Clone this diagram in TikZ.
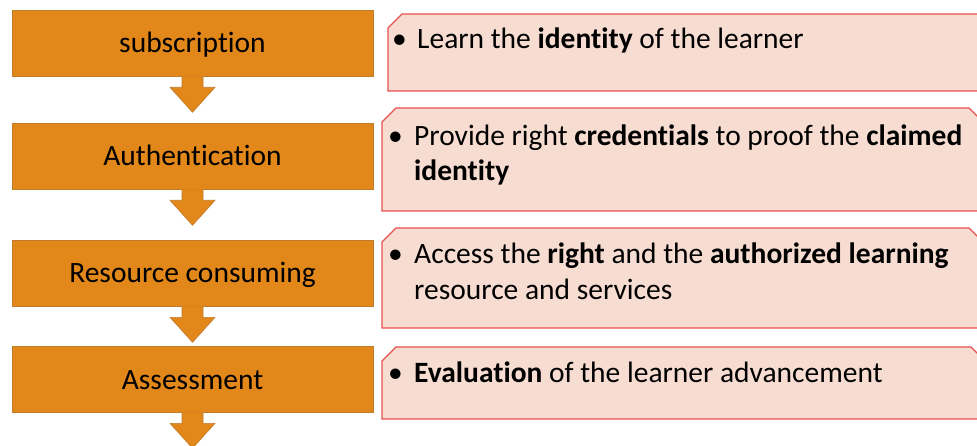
\documentclass[tikz,border=0pt]{standalone}
\usepackage{fontspec}
\setmainfont{Carlito}[Ligatures=NoCommon]
\usetikzlibrary{calc}
\definecolor{ofill}{HTML}{E2871A}
\definecolor{oline}{HTML}{C27A2C}
\definecolor{pfill}{HTML}{F7DDD1}
\definecolor{pline}{HTML}{E8504F}
\newcommand{\bigfont}{\fontsize{29.5}{35}\selectfont}
\begin{document}
\begin{tikzpicture}[x=1pt,y=-1pt,
  obox/.style={fill=ofill,draw=oline,line width=0.6pt,minimum width=361pt,minimum height=66pt,inner sep=0pt,text height=26pt,text depth=6pt,font=\bigfont},
  pbox/.style={fill=pfill,draw=pline,line width=1.3pt,line join=miter},
  ptext/.style={anchor=base west,inner sep=0pt,font=\bigfont}]
\useasboundingbox (0,0) rectangle (977,446);
\clip (0,0) rectangle (977,446);
\fill[white] (0,0) rectangle (977,446);

% left process boxes
\node[obox] (s1) at (192.5,43) {subscription};
\node[obox] (s2) at (192.5,156) {Authentication};
\node[obox] (s3) at (192.5,273) {Resource consuming};
\node[obox] (s4) at (192.5,379) {Assessment};

% block arrows below each box
\foreach \n in {s1,s2,s3,s4}{
  \fill[ofill] ([xshift=-10.5pt]\n.south) -- ++(0,11) -- ++(-12,0) -- ++(22.5,25) -- ++(22.5,-25) -- ++(-12,0) -- ++(0,-11) -- cycle;
  \draw[oline,line width=0.6pt] ([xshift=-10.5pt]\n.south) -- ++(0,11) -- ++(-12,0) -- ++(22.5,25) -- ++(22.5,-25) -- ++(-12,0) -- ++(0,-11);
}

% right description boxes (chamfered top corners)
\draw[pbox] (388,91) -- (388,28) -- (402,14) -- (981,14) -- (995,28) -- (995,91) -- cycle;
\draw[pbox] (382,211) -- (382,122) -- (396,108) -- (969,108) -- (983,122) -- (983,211) -- cycle;
\draw[pbox] (382,328) -- (382,242) -- (396,228) -- (969,228) -- (983,242) -- (983,328) -- cycle;
\draw[pbox] (382,419) -- (382,361) -- (396,347) -- (971,347) -- (985,361) -- (985,419) -- cycle;

% texts
\node[ptext] (b1) at (392,49) {•};
\node[ptext] (t1) at (417,49) {Learn the \textbf{identity} of the learner};

\node[ptext] (b2) at (388,146) {•};
\node[ptext] (t2a) at (414,146) {Provide right \textbf{credentials} to proof the \textbf{claimed}};
\node[ptext] (t2b) at (414,181) {\textbf{identity}};

\node[ptext] (b3) at (388,264) {•};
\node[ptext] (t3a) at (414,264) {Access the \textbf{right} and the \textbf{authorized learning}};
\node[ptext] (t3b) at (414,299) {resource and services};

\node[ptext] (b4) at (388,382) {•};
\node[ptext] (t4) at (414,382) {\textbf{Evaluation} of the learner advancement};
\end{tikzpicture}
\end{document}
